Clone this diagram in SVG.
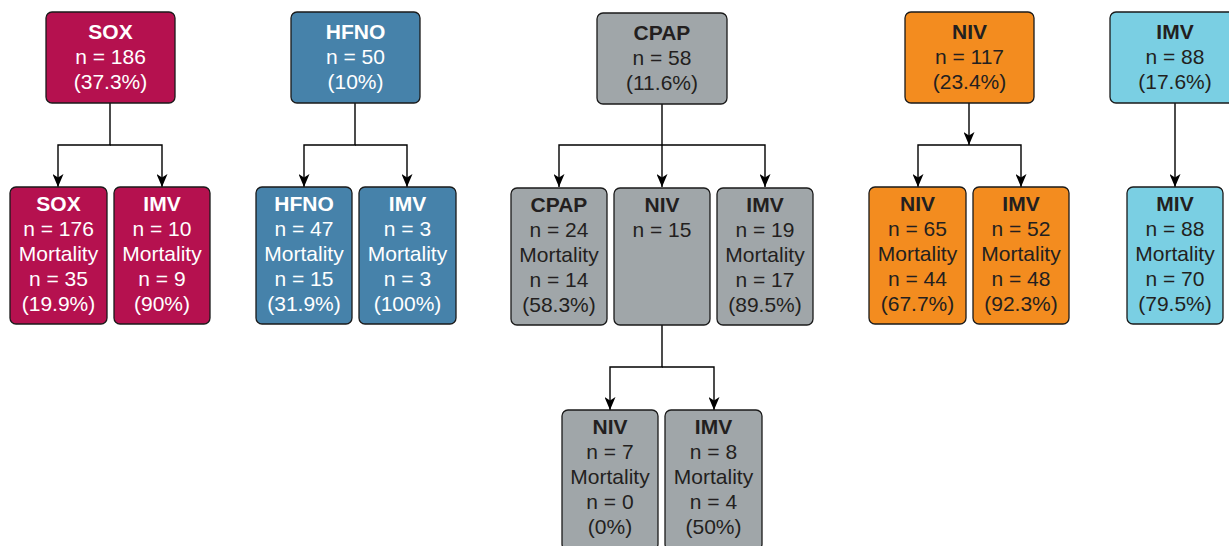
<svg xmlns="http://www.w3.org/2000/svg" width="1229" height="546" viewBox="0 0 1229 546">
<style>
rect{stroke:#1a1a1a;stroke-width:1.3}
text{font-family:"Liberation Sans",Arial,sans-serif;font-size:21px;text-anchor:middle}
.b{font-weight:bold}
.sox rect{fill:#B5114F}.sox text{fill:#fff}
.hf rect{fill:#4682AA}.hf text{fill:#fff}
.cp rect{fill:#A0A6A9}.cp text{fill:#231f20}
.nv rect{fill:#F38C1F}.nv text{fill:#231f20}
.im rect{fill:#7ACFE3}.im text{fill:#231f20}
#connectors path{fill:none;stroke:#000;stroke-width:1.4}
</style>
<defs>
<marker id="ah" viewBox="0 0 13 11" refX="13" refY="5.5" markerWidth="13" markerHeight="11" markerUnits="userSpaceOnUse" orient="auto"><path d="M0,0 L13,5.5 L0,11 L3.5,5.5 Z" fill="#000"/></marker>
</defs>
<g id="connectors">
<path d="M110,103 V145 H58 V187" marker-end="url(#ah)"/>
<path d="M110,145 H162 V187" marker-end="url(#ah)"/>
<path d="M355,103 V145 H304 V187" marker-end="url(#ah)"/>
<path d="M355,145 H407 V187" marker-end="url(#ah)"/>
<path d="M662,103 V187" marker-end="url(#ah)"/>
<path d="M662,145 H559 V187" marker-end="url(#ah)"/>
<path d="M662,145 H765 V187" marker-end="url(#ah)"/>
<path d="M662,325 V367 H610 V410" marker-end="url(#ah)"/>
<path d="M662,367 H714 V410" marker-end="url(#ah)"/>
<path d="M969,103 V145" marker-end="url(#ah)"/>
<path d="M969,145 H918 V187" marker-end="url(#ah)"/>
<path d="M969,145 H1021 V187" marker-end="url(#ah)"/>
<path d="M1175,103 V187" marker-end="url(#ah)"/>
</g>
<g id="sox" class="sox"><rect x="46" y="12" width="129" height="91" rx="6"/><text x="110.5" y="39" class="b">SOX</text><text x="110.5" y="64">n = 186</text><text x="110.5" y="89">(37.3%)</text></g>
<g id="sox-sox" class="sox"><rect x="10" y="187" width="97" height="137" rx="6"/><text x="58.5" y="211" class="b">SOX</text><text x="58.5" y="236">n = 176</text><text x="58.5" y="261">Mortality</text><text x="58.5" y="286">n = 35</text><text x="58.5" y="311">(19.9%)</text></g>
<g id="sox-imv" class="sox"><rect x="114" y="187" width="96" height="137" rx="6"/><text x="162" y="211" class="b">IMV</text><text x="162" y="236">n = 10</text><text x="162" y="261">Mortality</text><text x="162" y="286">n = 9</text><text x="162" y="311">(90%)</text></g>
<g id="hfno" class="hf"><rect x="291" y="12" width="129" height="91" rx="6"/><text x="355.5" y="39" class="b">HFNO</text><text x="355.5" y="64">n = 50</text><text x="355.5" y="89">(10%)</text></g>
<g id="hfno-hfno" class="hf"><rect x="256" y="187" width="96" height="137" rx="6"/><text x="304" y="211" class="b">HFNO</text><text x="304" y="236">n = 47</text><text x="304" y="261">Mortality</text><text x="304" y="286">n = 15</text><text x="304" y="311">(31.9%)</text></g>
<g id="hfno-imv" class="hf"><rect x="359" y="187" width="97" height="137" rx="6"/><text x="407.5" y="211" class="b">IMV</text><text x="407.5" y="236">n = 3</text><text x="407.5" y="261">Mortality</text><text x="407.5" y="286">n = 3</text><text x="407.5" y="311">(100%)</text></g>
<g id="cpap" class="cp"><rect x="597" y="13" width="130" height="91" rx="6"/><text x="662" y="40" class="b">CPAP</text><text x="662" y="65">n = 58</text><text x="662" y="90">(11.6%)</text></g>
<g id="cpap-cpap" class="cp"><rect x="511" y="188" width="96" height="137" rx="6"/><text x="559" y="212" class="b">CPAP</text><text x="559" y="237">n = 24</text><text x="559" y="262">Mortality</text><text x="559" y="287">n = 14</text><text x="559" y="312">(58.3%)</text></g>
<g id="cpap-niv" class="cp"><rect x="614" y="188" width="96" height="137" rx="6"/><text x="662" y="212" class="b">NIV</text><text x="662" y="237">n = 15</text></g>
<g id="cpap-imv" class="cp"><rect x="717" y="188" width="96" height="137" rx="6"/><text x="765" y="212" class="b">IMV</text><text x="765" y="237">n = 19</text><text x="765" y="262">Mortality</text><text x="765" y="287">n = 17</text><text x="765" y="312">(89.5%)</text></g>
<g id="cpap-niv-niv" class="cp"><rect x="562" y="410" width="96" height="140" rx="6"/><text x="610" y="434" class="b">NIV</text><text x="610" y="459">n = 7</text><text x="610" y="484">Mortality</text><text x="610" y="509">n = 0</text><text x="610" y="534">(0%)</text></g>
<g id="cpap-niv-imv" class="cp"><rect x="665" y="410" width="97" height="140" rx="6"/><text x="713.5" y="434" class="b">IMV</text><text x="713.5" y="459">n = 8</text><text x="713.5" y="484">Mortality</text><text x="713.5" y="509">n = 4</text><text x="713.5" y="534">(50%)</text></g>
<g id="niv" class="nv"><rect x="905" y="12" width="129" height="91" rx="6"/><text x="969.5" y="39" class="b">NIV</text><text x="969.5" y="64">n = 117</text><text x="969.5" y="89">(23.4%)</text></g>
<g id="niv-niv" class="nv"><rect x="869" y="187" width="97" height="137" rx="6"/><text x="917.5" y="211" class="b">NIV</text><text x="917.5" y="236">n = 65</text><text x="917.5" y="261">Mortality</text><text x="917.5" y="286">n = 44</text><text x="917.5" y="311">(67.7%)</text></g>
<g id="niv-imv" class="nv"><rect x="973" y="187" width="96" height="137" rx="6"/><text x="1021" y="211" class="b">IMV</text><text x="1021" y="236">n = 52</text><text x="1021" y="261">Mortality</text><text x="1021" y="286">n = 48</text><text x="1021" y="311">(92.3%)</text></g>
<g id="imv" class="im"><rect x="1110" y="12" width="130" height="91" rx="6"/><text x="1175" y="39" class="b">IMV</text><text x="1175" y="64">n = 88</text><text x="1175" y="89">(17.6%)</text></g>
<g id="imv-miv" class="im"><rect x="1127" y="187" width="96" height="137" rx="6"/><text x="1175" y="211" class="b">MIV</text><text x="1175" y="236">n = 88</text><text x="1175" y="261">Mortality</text><text x="1175" y="286">n = 70</text><text x="1175" y="311">(79.5%)</text></g>
</svg>
